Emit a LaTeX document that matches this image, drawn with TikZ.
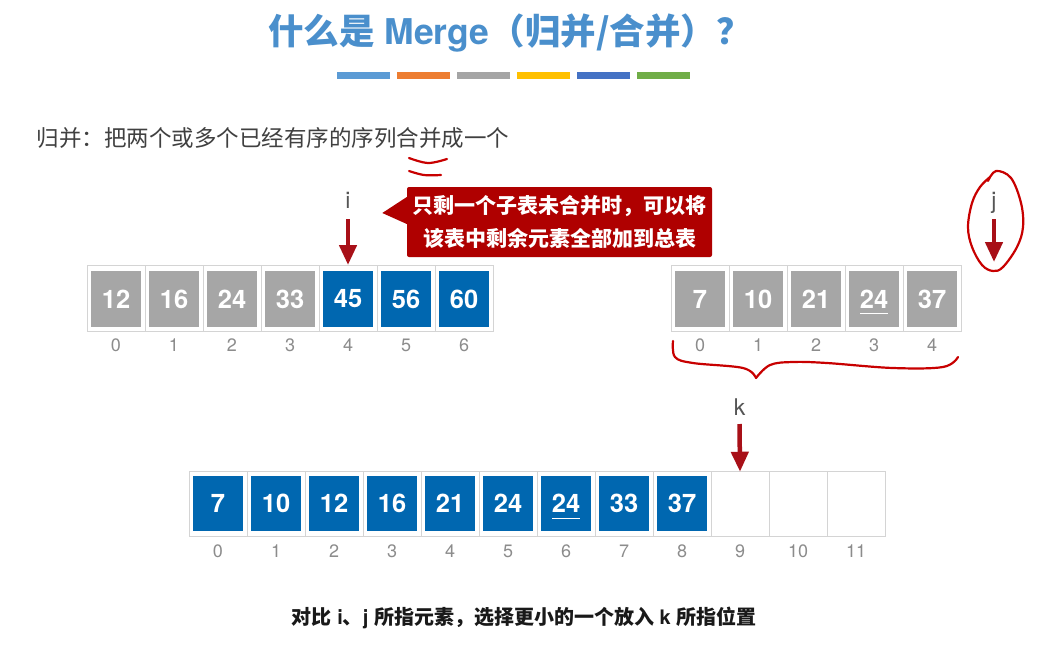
\documentclass[tikz,border=0pt]{standalone}
\usepackage{fontspec}
\setmainfont{TeX Gyre Heros}
\newfontfamily\cjk{Noto Sans CJK SC}
\usetikzlibrary{arrows.meta}
\definecolor{titleblue}{RGB}{74,143,204}
\definecolor{barA}{RGB}{91,155,213}
\definecolor{barB}{RGB}{237,125,49}
\definecolor{barC}{RGB}{165,165,165}
\definecolor{barD}{RGB}{255,192,0}
\definecolor{barE}{RGB}{68,114,196}
\definecolor{barF}{RGB}{112,173,71}
\definecolor{textgray}{RGB}{64,64,64}
\definecolor{boxgray}{RGB}{166,166,166}
\definecolor{boxblue}{RGB}{0,103,176}
\definecolor{framegray}{RGB}{212,212,212}
\definecolor{idxgray}{RGB}{140,140,140}
\definecolor{labgray}{RGB}{85,85,85}
\definecolor{calloutred}{RGB}{175,0,0}
\definecolor{arrowred}{RGB}{168,16,24}
\definecolor{handred}{RGB}{200,0,0}
\begin{document}
\begin{tikzpicture}[x=1pt,y=-1pt,
  cell/.style={draw=framegray, line width=0.9pt, fill=white, minimum width=58pt, minimum height=66pt, inner sep=0pt, outer sep=0pt},
  ibox/.style={minimum width=50pt, minimum height=56pt, inner sep=0pt, text=white, font=\bfseries\fontsize{25.5}{25.5}\selectfont},
  idx/.style={text=idxgray, font=\fontsize{18}{18}\selectfont, inner sep=0pt},
  ptrlabel/.style={text=labgray, font=\fontsize{23}{23}\selectfont, inner sep=0pt, anchor=base},
  ptr/.style={draw=arrowred, line width=4.5pt, -{Triangle[width=17pt,length=20pt]}},
  hand/.style={draw=handred, line width=2.2pt, line cap=round, line join=round},
  callout/.style={fill=calloutred, rounded corners=2pt, minimum width=305pt, minimum height=70pt, text=white, font=\cjk\bfseries\fontsize{21}{33}\selectfont, align=center, inner sep=0pt},
  ul/.style={draw=white, line width=1.8pt}
]
\useasboundingbox[fill=white] (0,0) rectangle (1051,659);

% title
\node[font=\bfseries\fontsize{35.5}{35.5}\selectfont, text=titleblue, inner sep=0pt] (title) at (510,33) {{\cjk 什么是} Merge{\cjk （归并/合并）？}};
\foreach \c [count=\n from 0] in {barA,barB,barC,barD,barE,barF}
  \fill[\c] ({337+60*\n},72) rectangle ++(53,7);

% definition
\node[anchor=west, font=\cjk\fontsize{22.5}{22.5}\selectfont, text=textgray, inner sep=0pt] (def) at (36.5,138) {归并：把两个或多个已经有序的序列合并成一个};

% top-left array
\foreach \v/\c [count=\n from 0] in {12/boxgray,16/boxgray,24/boxgray,33/boxgray,45/boxblue,56/boxblue,60/boxblue} {
  \node[cell] (a\n) at ({116+58*\n},298) {};
  \node[ibox, fill=\c] (av\n) at ({116+58*\n},299) {\v};
  \node[idx] (ai\n) at ({116+58*\n},345) {\n};
}
% top-right array
\foreach \v [count=\n from 0] in {7,10,21,24,37} {
  \node[cell] (b\n) at ({700+58*\n},298) {};
  \node[ibox, fill=boxgray] (bv\n) at ({700+58*\n},299) {\v};
  \node[idx] (bi\n) at ({700+58*\n},345) {\n};
}
\draw[ul] ([xshift=-14pt,yshift=-14.5pt]bv3.center) -- ([xshift=14pt,yshift=-14.5pt]bv3.center);

% bottom array
\foreach \n in {0,...,11} {
  \node[cell, minimum height=64.5pt] (c\n) at ({218+58*\n},504) {};
  \node[idx] (ci\n) at ({218+58*\n},551.5) {\n};
}
\foreach \v [count=\n from 0] in {7,10,12,16,21,24,24,33,37}
  \node[ibox, fill=boxblue, minimum height=55pt] (cv\n) at ({218+58*\n},503.5) {\v};
\draw[ul] ([xshift=-14pt,yshift=-15pt]cv6.center) -- ([xshift=14pt,yshift=-15pt]cv6.center);

% pointers
\node[ptrlabel] (ilab) at (348,208) {i};
\node[ptrlabel] (jlab) at (994,208) {j};
\node[ptrlabel] (klab) at (739.5,415) {k};
\coordinate (jtip) at (994,262);
\draw[ptr] ([yshift=-11pt]ilab.base) -- (a4.north);
\draw[ptr] ([yshift=-11pt]jlab.base) -- (jtip);
\draw[ptr] ([yshift=-9pt]klab.base) -- (c9.north);

% callout
\node[callout] (note) at (559.5,222) {只剩一个子表未合并时，可以将\\该表中剩余元素全部加到总表};
\fill[calloutred] ([yshift=25pt]note.west) -- ([xshift=-24.5pt,yshift=9pt]note.west) -- ([yshift=-2pt]note.west) -- cycle;

% caption
\node[font=\bfseries\fontsize{20}{20}\selectfont, text=black!90, inner sep=0pt] (caption) at (524,618) {{\cjk 对比} i{\cjk 、}j {\cjk 所指元素，选择更小的一个放入} k {\cjk 所指位置}};

% hand-drawn marks
\draw[hand] plot[smooth, tension=0.6] coordinates {(409,158) (428,163) (447,159)};
\draw[hand] plot[smooth, tension=0.6] coordinates {(409,171) (424,175) (441,175)};
\draw[hand] plot[smooth, tension=0.6] coordinates {(988,181) (996,171) (1011,178) (1021,203) (1023,227) (1017,247) (1003,267) (993,271) (982,265) (972,247) (968,227) (972,203) (980,187) (990,177)};
\draw[hand] plot[smooth, tension=0.6] coordinates {(673,341) (675,357) (693,363) (743,368) (756,378)};
\draw[hand] plot[smooth, tension=0.6] coordinates {(756,378) (770,365) (793,362) (827,363) (893,368) (943,367) (958,357)};
\end{tikzpicture}
\end{document}
